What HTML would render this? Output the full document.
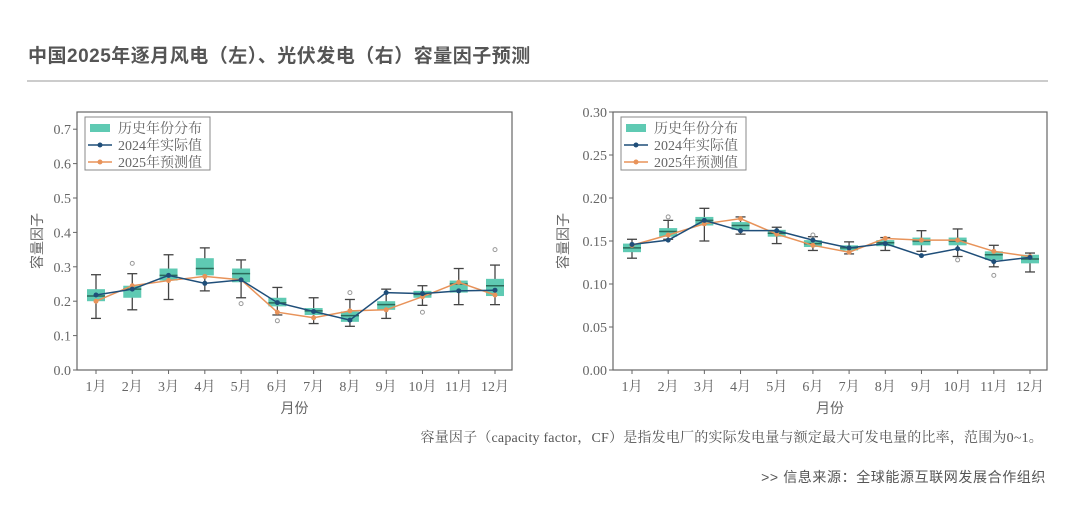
<!DOCTYPE html>
<html><head><meta charset="utf-8"><style>
body{margin:0;background:#fff;width:1080px;height:507px;overflow:hidden;font-family:"Liberation Sans","Noto Sans CJK SC",sans-serif}
</style></head><body>
<svg id="s" width="1080" height="507" xmlns="http://www.w3.org/2000/svg" style="position:absolute;left:0;top:0">
<text x="28" y="62" font-size="19" font-weight="bold" fill="#555" letter-spacing="0.5" font-family="Liberation Sans,Noto Sans CJK SC,sans-serif">中国2025年逐月风电（左）、光伏发电（右）容量因子预测</text>
<line x1="27" y1="81" x2="1048" y2="81" stroke="#bbb" stroke-width="1.5"/>
<text x="1043" y="442" font-size="14" fill="#555" text-anchor="end" letter-spacing="0.2" font-family="Liberation Serif,Noto Serif CJK SC,serif">容量因子（capacity factor，CF）是指发电厂的实际发电量与额定最大可发电量的比率，范围为0~1。</text>
<text x="1046" y="482" font-size="14" fill="#555" text-anchor="end" letter-spacing="0.6" font-family="Liberation Sans,Noto Sans CJK SC,sans-serif">&gt;&gt;  信息来源：全球能源互联网发展合作组织</text>
</svg>
<script>
const S=document.getElementById('s');let h='';
function chart(o){
 const {x0,x1,y0,y1,max,ticks,fmt,m1,m12,d}=o;
 const Y=v=>y1-(v/max)*(y1-y0);const sp=(m12-m1)/11;const X=i=>m1+i*sp;
 h+=`<rect x="${x0}" y="${y0}" width="${x1-x0}" height="${y1-y0}" fill="none" stroke="#666" stroke-width="1.2"/>`;
 ticks.forEach(t=>{h+=`<line x1="${x0-4}" x2="${x0}" y1="${Y(t)}" y2="${Y(t)}" stroke="#666"/><text x="${x0-6}" y="${Y(t)+5}" font-size="14" fill="#666" text-anchor="end" font-family="Liberation Serif,serif">${fmt(t)}</text>`});
 for(let i=0;i<12;i++){h+=`<line x1="${X(i)}" x2="${X(i)}" y1="${y1}" y2="${y1+4}" stroke="#666"/><text x="${X(i)}" y="${y1+21}" font-size="14" fill="#666" text-anchor="middle" font-family="Liberation Serif,Noto Serif CJK SC,serif">${i+1}月</text>`;}
 h+=`<text x="${(x0+x1)/2}" y="${y1+43}" font-size="14" fill="#666" text-anchor="middle" font-family="Noto Sans CJK SC,sans-serif">月份</text>`;
 h+=`<text transform="translate(${o.yl},${(y0+y1)/2}) rotate(-90)" font-size="14" fill="#666" text-anchor="middle" font-family="Noto Sans CJK SC,sans-serif">容量因子</text>`;
 d.forEach((r,i)=>{const[q1,q3,md,wl,wh,a,p,out]=r;const x=X(i);
  h+=`<line x1="${x}" x2="${x}" y1="${Y(wh)}" y2="${Y(wl)}" stroke="#444" stroke-width="1.3"/>`;
  h+=`<line x1="${x-5}" x2="${x+5}" y1="${Y(wh)}" y2="${Y(wh)}" stroke="#444" stroke-width="1.3"/><line x1="${x-5}" x2="${x+5}" y1="${Y(wl)}" y2="${Y(wl)}" stroke="#444" stroke-width="1.3"/>`;
  h+=`<rect x="${x-9}" y="${Y(q3)}" width="18" height="${Y(q1)-Y(q3)}" fill="#5fcab3"/>`;
  h+=`<line x1="${x-9}" x2="${x+9}" y1="${Y(md)}" y2="${Y(md)}" stroke="#2a6a5a" stroke-width="1.5"/>`;
  if(out!==undefined)h+=`<circle cx="${x}" cy="${Y(out)}" r="2" fill="none" stroke="#999"/>`;
 });
 let pa='',pp='';d.forEach((r,i)=>{pa+=`${X(i)},${Y(r[5])} `;pp+=`${X(i)},${Y(r[6])} `;});
 h+=`<polyline points="${pp}" fill="none" stroke="#e8935a" stroke-width="1.5"/>`;
 d.forEach((r,i)=>h+=`<circle cx="${X(i)}" cy="${Y(r[6])}" r="2.5" fill="#e8935a"/>`);
 h+=`<polyline points="${pa}" fill="none" stroke="#1f4e79" stroke-width="1.5"/>`;
 d.forEach((r,i)=>h+=`<circle cx="${X(i)}" cy="${Y(r[5])}" r="2.5" fill="#1f4e79"/>`);
 const lx=x0+8,ly=y0+5;
 h+=`<rect x="${lx}" y="${ly}" width="125" height="53" fill="#fff" stroke="#888"/>`;
 h+=`<rect x="${lx+5}" y="${ly+7}" width="20" height="8" fill="#5fcab3"/>`;
 h+=`<line x1="${lx+3}" x2="${lx+27}" y1="${ly+28}" y2="${ly+28}" stroke="#1f4e79" stroke-width="1.5"/><circle cx="${lx+15}" cy="${ly+28}" r="2.5" fill="#1f4e79"/>`;
 h+=`<line x1="${lx+3}" x2="${lx+27}" y1="${ly+45}" y2="${ly+45}" stroke="#e8935a" stroke-width="1.5"/><circle cx="${lx+15}" cy="${ly+45}" r="2.5" fill="#e8935a"/>`;
 ['历史年份分布','2024年实际值','2025年预测值'].forEach((t,k)=>h+=`<text x="${lx+33}" y="${ly+16+k*17}" font-size="14" fill="#666" font-family="Liberation Serif,Noto Serif CJK SC,serif">${t}</text>`);
}
chart({x0:77,x1:512,y0:112,y1:370,max:0.75,ticks:[0,.1,.2,.3,.4,.5,.6,.7],fmt:t=>t.toFixed(1),m1:96,m12:495,yl:42,d:[
[.20,.235,.215,.15,.277,.218,.20],[.21,.245,.235,.175,.28,.235,.245,.31],[.26,.295,.275,.205,.335,.275,.26],[.275,.325,.295,.23,.355,.252,.272],
[.255,.295,.28,.21,.32,.262,.262,.193],[.185,.21,.195,.16,.24,.196,.168,.143],[.16,.18,.172,.135,.21,.17,.152],[.14,.17,.158,.127,.205,.145,.172,.225],
[.175,.2,.19,.15,.235,.225,.175],[.21,.23,.22,.188,.245,.222,.213,.168],[.225,.26,.25,.19,.295,.23,.255],[.215,.265,.245,.19,.305,.232,.218,.35]]});
chart({x0:613,x1:1047,y0:112,y1:370,max:0.30,ticks:[0,.05,.1,.15,.2,.25,.3],fmt:t=>t.toFixed(2),m1:632,m12:1030,yl:568,d:[
[.137,.147,.142,.13,.152,.146,.145],[.155,.165,.161,.152,.174,.151,.157,.178],[.168,.178,.174,.15,.188,.174,.17],[.163,.172,.168,.158,.178,.162,.176],
[.155,.163,.159,.147,.166,.162,.158],[.143,.151,.147,.139,.155,.151,.145,.157],[.139,.145,.142,.135,.149,.142,.137],[.144,.151,.148,.139,.154,.147,.153],
[.145,.154,.15,.138,.162,.133,.151],[.145,.154,.15,.132,.164,.141,.151,.128],[.128,.138,.134,.12,.145,.126,.138,.11],[.124,.134,.129,.114,.136,.131,.132]]});
S.insertAdjacentHTML('beforeend',h);
</script>
</body></html>
